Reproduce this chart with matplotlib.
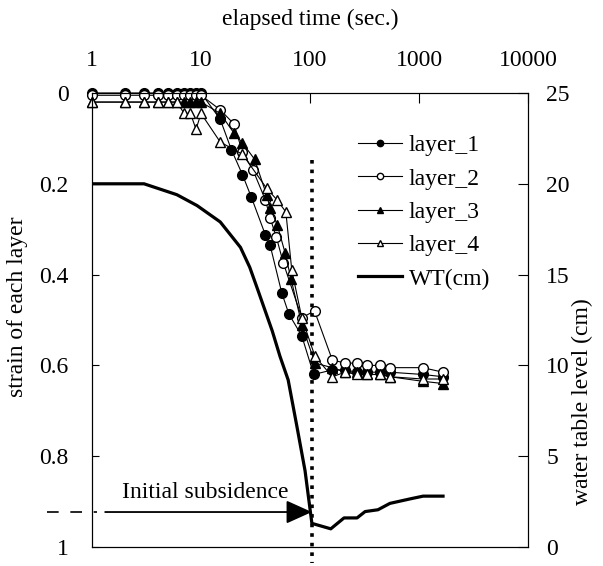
import matplotlib
matplotlib.use('Agg')
import matplotlib.pyplot as plt
from matplotlib.ticker import FixedLocator, NullLocator

plt.rcParams['font.family'] = ['Liberation Serif', 'DejaVu Serif']
plt.rcParams['font.size'] = 17

# strain of each layer vs elapsed time (sec.)
layer1_t = [1, 2, 3, 4, 5, 6, 7, 8, 9, 10, 15, 19, 24, 29, 39, 43, 55, 64, 84, 108,
            160, 210, 270, 330, 440, 540, 1080, 1660]
layer1_s = [0, 0, 0, 0, 0, 0, 0, 0, 0, 0, 0.058, 0.125, 0.18, 0.23, 0.313, 0.335, 0.44, 0.487,
            0.535, 0.62, 0.61, 0.61, 0.615, 0.615, 0.615, 0.615, 0.62, 0.625]

layer2_t = [1, 2, 3, 4, 5, 6, 7, 8, 9, 10, 15, 20, 24, 30, 39, 43, 49, 57, 84, 110,
            160, 210, 270, 330, 440, 540, 1080, 1660]
layer2_s = [0.005, 0.005, 0.005, 0.005, 0.005, 0.005, 0.005, 0.005, 0.005, 0.005, 0.037, 0.068,
            0.13, 0.17, 0.236, 0.275, 0.317, 0.375, 0.495, 0.48, 0.588, 0.595, 0.595, 0.6,
            0.6, 0.605, 0.605, 0.615]

layer3_t = [1, 2, 3, 4, 5, 6, 7, 8, 9, 10, 15, 20, 24, 31, 40, 43, 50, 59, 67, 84, 111,
            160, 210, 270, 330, 440, 540, 1080, 1660]
layer3_s = [0.02, 0.02, 0.02, 0.02, 0.02, 0.02, 0.02, 0.02, 0.02, 0.02, 0.045, 0.088, 0.11,
            0.146, 0.225, 0.253, 0.29, 0.352, 0.41, 0.51, 0.595, 0.605, 0.615, 0.615, 0.62,
            0.62, 0.625, 0.635, 0.64]

layer4_t = [1, 2, 3, 4, 5, 6, 7, 8, 9, 10, 15, 24, 40, 50, 60, 68, 84, 111,
            160, 210, 270, 330, 440, 540, 1080, 1660]
layer4_s = [0.02, 0.02, 0.02, 0.02, 0.02, 0.02, 0.045, 0.045, 0.08, 0.045, 0.108, 0.135, 0.21,
            0.236, 0.262, 0.39, 0.495, 0.58, 0.625, 0.615, 0.62, 0.62, 0.62, 0.625, 0.63, 0.63]

# water table level (cm)
wt_t = [1, 3, 6, 9.2, 15, 23, 28, 33, 45, 53, 63, 76, 90, 104, 155, 205, 270, 320, 420,
        540, 830, 1090, 1660]
wt_v = [20.0, 20.0, 19.4, 18.8, 17.9, 16.5, 15.4, 14.2, 11.9, 10.5, 9.2, 6.6, 4.2, 1.3,
        1.0, 1.6, 1.6, 1.95, 2.05, 2.4, 2.65, 2.8, 2.8]

x_ticks = [1, 10, 100, 1000, 10000]
strain_ticks = [0, 0.2, 0.4, 0.6, 0.8, 1]
strain_labels = ['0', '0.2', '0.4', '0.6', '0.8', '1']
wt_ticks = [0, 5, 10, 15, 20, 25]

# annotation
t_init = 104
dotted_top, dotted_bottom = 0.148, 1.035
arrow_y = 0.923
arrow_start = 1.32
dash_start, dash_end = 0.386, 1.1
text_t, text_y = 10.9, 0.879

fig = plt.figure(figsize=(6.03, 5.66), dpi=100)
ax = fig.add_axes([0.1526, 0.0336, 0.7231, 0.8021])
ax2 = ax.twinx()

mk = dict(color='k', lw=0.8, ms=7, mec='k', clip_on=False)
h1, = ax.plot(layer1_t, layer1_s, marker='o', mfc='k', label='layer_1', **mk)
h2, = ax.plot(layer2_t, layer2_s, marker='o', mfc='white', label='layer_2', **mk)
h3, = ax.plot(layer3_t, layer3_s, marker='^', mfc='k', label='layer_3', **mk)
h4, = ax.plot(layer4_t, layer4_s, marker='^', mfc='white', label='layer_4', **mk)
h5, = ax2.plot(wt_t, wt_v, color='k', lw=2.3, label='WT(cm)')

ax.set_xscale('log')
ax.set_xlim(1, 10000)
ax.set_ylim(1, 0)
ax2.set_ylim(0, 25)

ax.plot([t_init, t_init], [dotted_top, dotted_bottom], color='k', lw=2.6,
        linestyle=':', clip_on=False)
ax.plot([dash_start, dash_end], [arrow_y, arrow_y], color='k', lw=1.2,
        dashes=[7, 7], clip_on=False)
ax.annotate('', xy=(t_init, arrow_y), xytext=(arrow_start, arrow_y),
            arrowprops=dict(arrowstyle='-|>,head_length=0.8,head_width=0.36',
                            mutation_scale=20, lw=1.3, color='k',
                            shrinkA=0, shrinkB=0))
ax.text(text_t, text_y, 'Initial subsidence', ha='center', va='center', fontsize=17)

# x axis on top
ax.xaxis.set_ticks_position('top')
ax.xaxis.set_label_position('top')
ax.xaxis.set_major_locator(FixedLocator(x_ticks))
ax.xaxis.set_minor_locator(NullLocator())
ax.set_xticklabels([str(t) for t in x_ticks])
ax.set_xlabel('elapsed time (sec.)', fontsize=17)
ax.xaxis.set_label_coords(0.5, 1.15)
ax.tick_params(axis='x', direction='in', length=7, width=0.8, pad=16, labelsize=17)

ax.set_yticks(strain_ticks)
ax.set_yticklabels(strain_labels)
ax.tick_params(axis='y', direction='in', length=5, width=0.8, pad=17, labelsize=17)
ax.set_ylabel('strain of each layer', fontsize=17)
ax.yaxis.set_label_coords(-0.147, 0.53)

ax2.set_yticks(wt_ticks)
ax2.tick_params(axis='y', direction='in', length=7, width=0.8, pad=13, labelsize=17)
ax2.set_ylabel('water table level (cm)', fontsize=17)
ax2.yaxis.set_label_coords(1.101, 0.32)

for a in (ax, ax2):
    for s in a.spines.values():
        s.set_linewidth(0.8)

ax2.legend(handles=[h1, h2, h3, h4, h5], loc='upper left', bbox_to_anchor=(0.61, 0.908),
           frameon=False, borderpad=0, borderaxespad=0, handlelength=1.85,
           handletextpad=0.3, labelspacing=0.5, markerscale=0.65, fontsize=17)

fig.savefig('out.png', dpi=100)
